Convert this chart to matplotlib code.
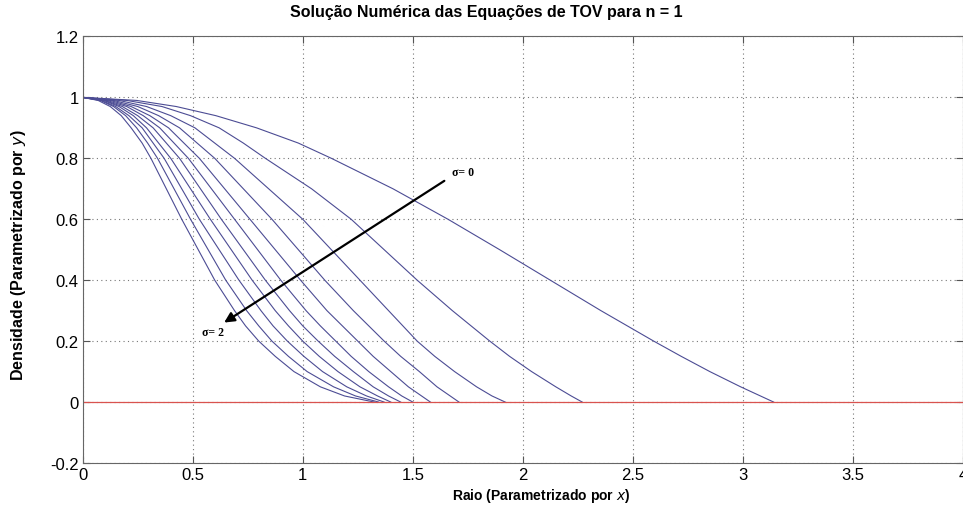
import matplotlib
matplotlib.use("Agg")
import matplotlib.pyplot as plt

levels = [1.0, 0.99, 0.97, 0.94, 0.9, 0.85, 0.8, 0.7, 0.6, 0.5, 0.4, 0.3, 0.25, 0.2, 0.15, 0.1, 0.05, 0.02, 0.0]

# x positions per sigma = 0, 0.2, ..., 2
x_s00 = [0, 0.245, 0.425, 0.605, 0.79, 0.98, 1.13, 1.41, 1.66, 1.895, 2.125, 2.355, 2.475, 2.595, 2.72, 2.85, 2.99, 3.08, 3.14]
x_s02 = [0, 0.20, 0.36, 0.49, 0.62, 0.73, 0.83, 1.04, 1.22, 1.37, 1.52, 1.68, 1.765, 1.85, 1.94, 2.04, 2.15, 2.22, 2.27]
x_s04 = [0, 0.165, 0.29, 0.40, 0.51, 0.60, 0.69, 0.845, 1.00, 1.13, 1.26, 1.39, 1.455, 1.52, 1.60, 1.69, 1.79, 1.86, 1.92]
x_s06 = [0, 0.14, 0.25, 0.345, 0.44, 0.52, 0.60, 0.73, 0.86, 0.98, 1.10, 1.23, 1.30, 1.37, 1.445, 1.53, 1.61, 1.67, 1.71]
x_s08 = [0, 0.125, 0.22, 0.305, 0.39, 0.46, 0.53, 0.645, 0.76, 0.875, 0.99, 1.11, 1.18, 1.25, 1.32, 1.40, 1.48, 1.54, 1.58]
x_s10 = [0, 0.11, 0.20, 0.275, 0.35, 0.415, 0.48, 0.585, 0.69, 0.795, 0.90, 1.015, 1.08, 1.15, 1.22, 1.30, 1.39, 1.45, 1.50]
x_s12 = [0, 0.10, 0.18, 0.25, 0.32, 0.38, 0.44, 0.535, 0.63, 0.73, 0.83, 0.94, 1.00, 1.07, 1.145, 1.23, 1.32, 1.39, 1.445]
x_s14 = [0, 0.095, 0.165, 0.23, 0.29, 0.345, 0.40, 0.49, 0.58, 0.675, 0.77, 0.875, 0.935, 1.00, 1.075, 1.16, 1.26, 1.34, 1.40]
x_s16 = [0, 0.085, 0.15, 0.21, 0.27, 0.32, 0.37, 0.45, 0.53, 0.62, 0.71, 0.81, 0.865, 0.93, 1.005, 1.09, 1.20, 1.29, 1.37]
x_s18 = [0, 0.08, 0.14, 0.195, 0.245, 0.295, 0.34, 0.415, 0.49, 0.57, 0.65, 0.745, 0.80, 0.86, 0.935, 1.02, 1.14, 1.24, 1.345]
x_s20 = [0, 0.07, 0.125, 0.175, 0.22, 0.27, 0.31, 0.38, 0.45, 0.525, 0.60, 0.69, 0.74, 0.80, 0.875, 0.96, 1.08, 1.19, 1.325]
curves = [x_s00, x_s02, x_s04, x_s06, x_s08, x_s10, x_s12, x_s14, x_s16, x_s18, x_s20]

xticks = [0, 0.5, 1, 1.5, 2, 2.5, 3, 3.5, 4]
yticks = [-0.2, 0, 0.2, 0.4, 0.6, 0.8, 1, 1.2]
xtick_labels = ['0', '0.5', '1', '1.5', '2', '2.5', '3', '3.5', '4']
ytick_labels = ['-0.2', '0', '0.2', '0.4', '0.6', '0.8', '1', '1.2']

plt.rcParams['font.family'] = ['Liberation Sans', 'DejaVu Sans']

fig = plt.figure(figsize=(9.63, 5.06), dpi=100)
ax = fig.add_axes([0.0859, 0.083, 0.914, 0.843])

for xs in curves:
    ax.plot(xs, levels, color='#4c4c94', linewidth=0.8)
ax.plot([0, 4], [0, 0], color='#d9534f', linewidth=0.9)

ax.set_xlim(0, 4)
ax.set_ylim(-0.2, 1.2)
ax.set_xticks(xticks)
ax.set_xticklabels(xtick_labels)
ax.set_yticks(yticks)
ax.set_yticklabels(ytick_labels)
ax.tick_params(direction='in', length=5, labelsize=12, top=True, right=True, color='#555555', pad=3)
for sp in ax.spines.values():
    sp.set_color('#666666')
    sp.set_linewidth(0.8)
ax.grid(True, linestyle=(0, (1, 3)), color='#777777', linewidth=0.8)

ax.set_xlabel('Raio (Parametrizado por $\\it{x}$)', fontsize=10, fontweight='bold')
ax.xaxis.set_label_coords((541 - 82.7) / 880, -0.055)
ax.set_ylabel('Densidade (Parametrizado por $\\it{y}$)', fontsize=11.5, fontweight='bold')
ax.yaxis.set_label_coords(-0.062, 0.49)
fig.text(486 / 963, 1 - 13 / 506, 'Solução Numérica das Equações de TOV para n = 1',
         ha='center', va='center', fontsize=11.5, fontweight='bold')

ax.annotate('', xy=(0.632, 0.256), xytext=(1.654, 0.731),
            arrowprops=dict(arrowstyle='-|>', color='black', lw=1.6, mutation_scale=15))
ax.text(1.68, 0.755, 'σ= 0', fontsize=8.5, fontweight='bold', family='Liberation Serif', va='center')
ax.text(0.54, 0.23, 'σ= 2', fontsize=8.5, fontweight='bold', family='Liberation Serif', va='center')

fig.savefig('out.png', dpi=100)
